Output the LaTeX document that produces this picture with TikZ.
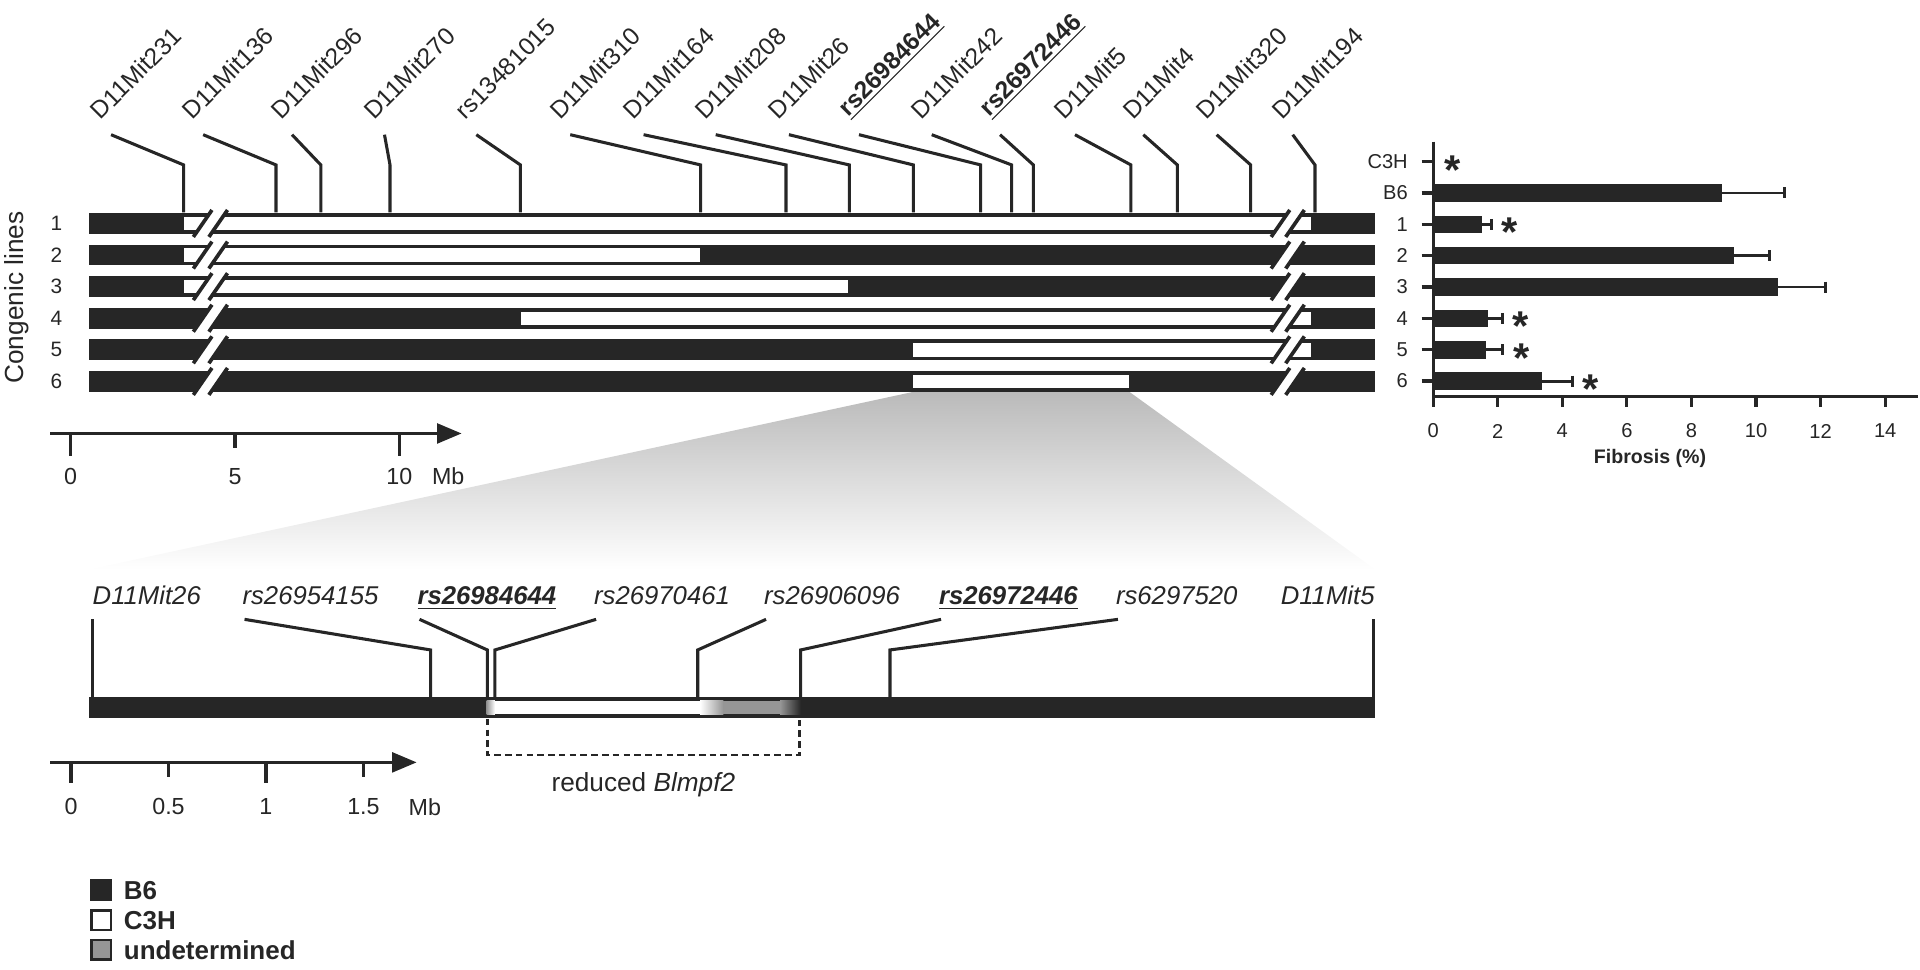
\documentclass[tikz,border=0pt]{standalone}
\usepackage{graphicx}
\usepackage{fontspec}
\setmainfont{Liberation Sans}
\usetikzlibrary{
    arrows.meta,
    positioning
}
\definecolor{bsix}{HTML}{262626}
\definecolor{undet}{HTML}{969696}
\tikzstyle{toplab} = [anchor=south west, inner sep=0, text=bsix, font={\fontsize{10}{12}\selectfont}]
\tikzstyle{botlab} = [anchor=base west, inner sep=0, text=bsix, font={\fontsize{10.5}{12}\selectfont\itshape}]
\tikzstyle{linkline} = [draw=bsix, line width=1.25pt]
\tikzstyle{axisline} = [draw=bsix, line width=1.4pt]
\tikzstyle{slash} = [draw=bsix, line width=1.5pt]
\tikzstyle{ticklab} = [inner sep=0, text=bsix, font={\fontsize{9.5}{11}\selectfont}]
\tikzstyle{rowlab} = [inner sep=0, text=bsix, font={\fontsize{8.5}{10}\selectfont}]
\tikzstyle{chartlab} = [anchor=east, inner sep=0, text=bsix, font={\fontsize{8.2}{10}\selectfont}]
\tikzstyle{errbar} = [draw=bsix, line width=1.2pt]
\tikzstyle{signif} = [anchor=north, inner sep=0, text=bsix, font={\fontsize{17}{17}\selectfont\bfseries}]
\tikzstyle{legbox} = [draw=bsix, line width=1.1pt, minimum size=8pt, inner sep=0]
\tikzstyle{legtext} = [node distance=4.5pt, inner sep=0, text=bsix, font={\fontsize{10.6}{12}\selectfont\bfseries}]

\begin{document}
\begin{tikzpicture}[x=0.5pt, y=-0.5pt]
    \useasboundingbox (0,0) rectangle (1568,791.4);

    % zoom funnel
    \shade[top color=black!27, bottom color=white] (745.9,320) -- (922.3,320) -- (1123,465) -- (73,465) -- cycle;

    % congenic lines
    \node[rotate=90, inner sep=0, text=bsix, font={\fontsize{10.7}{12}\selectfont}] (cong) at (14,243) {Congenic lines};

    \foreach \r / \ws / \we in {1/150.2/1070.7, 2/150.2/571.5, 3/150.2/692.5, 4/425.5/1070.7, 5/745.9/1070.7, 6/745.9/922.3}{
    \pgfmathsetmacro\yt{174+(\r-1)*25.8}
    \pgfmathsetmacro\yb{\yt+17}
    \pgfmathsetmacro\yc{\yt+8.5}
    \node[rowlab] (row\r) at (46,\yc) {\r};
    \fill[bsix] (73,\yt) rectangle (1123,\yb);
    \fill[white] (\ws,\yt+3) rectangle (\we,\yb-3);
    \foreach \xa / \xb in {165.5/178.2, 1045.7/1057.6}{
    \fill[white] (\xa-6.2,\yb+0.5) -- (\xa+6.2,\yt-0.5) -- (\xb+6.2,\yt-0.5) -- (\xb-6.2,\yb+0.5) -- cycle;
    \draw[slash] (\xa-7.6,\yc+11) -- (\xa+7.6,\yc-11);
    \draw[slash] (\xb-7.6,\yc+11) -- (\xb+7.6,\yc-11);
    }
    }

    % markers on the congenic map
    \foreach \lab / \sx / \vx [count=\i] in {D11Mit231/90.7/150, D11Mit136/165.9/225.4, D11Mit296/238.5/262, D11Mit270/314/318.5, rs13481015/389/425, D11Mit310/465.7/572.2, D11Mit164/525.6/641.9, D11Mit208/584.5/693.6, D11Mit26/644.3/745.9, {\underline{\textbf{rs26984644}}}/701.5/800.9, D11Mit242/760.9/826.2, {\underline{\textbf{rs26972446}}}/816.7/843.9, D11Mit5/877.9/923.6, D11Mit4/933.7/961.5, D11Mit320/993.6/1021.4, D11Mit194/1055.7/1073.9}{
    \coordinate (mt\i) at (\sx,110);
    \coordinate (me\i) at (\vx,134.7);
    \coordinate (mb\i) at (\vx,173.5);
    \node[toplab] (ml\i) at (\sx-19,99) {\rotatebox{45}{\lab}};
    \draw[linkline] (mt\i) -- (me\i) -- (mb\i);
    }

    % Mb axis, whole map
    \coordinate (tax0) at (41,354);
    \coordinate (tax1) at (377,354);
    \draw[axisline, -{Triangle[length=10pt, width=8pt]}] (tax0) -- (tax1);
    \foreach \v / \len [count=\i] in {0/18, 5/12, 10/18}{
    \draw[axisline] (57.7+\v*26.84,354) -- ++(0,\len);
    \node[ticklab] (tt\i) at (57.7+\v*26.84,389) {\v};
    }
    \node[ticklab] (tmb) at (366,389) {Mb};

    % fine map
    \fill[bsix] (73,569) rectangle (1123,586.6);
    \shade[left color=undet, right color=white] (397.5,572.2) rectangle (404.2,583.3);
    \fill[white] (404.2,572.2) rectangle (571.7,583.3);
    \shade[left color=white, right color=undet] (571.7,572.2) rectangle (590.7,583.3);
    \fill[undet] (590.7,572.2) rectangle (637,583.3);
    \shade[left color=undet, right color=bsix] (637,572.2) rectangle (654,583.3);

    \node[botlab] (zl0) at (75.3,494) {D11Mit26};
    \coordinate (zt0) at (75.5,505.8);
    \coordinate (zb0) at (75.5,569.5);
    \draw[linkline] (zt0) -- (zb0);
    \node[botlab, anchor=base east] (zl9) at (1123,494) {D11Mit5};
    \coordinate (zt9) at (1121.5,505.8);
    \coordinate (zb9) at (1121.5,569.5);
    \draw[linkline] (zt9) -- (zb9);

    \foreach \lab / \sx / \vx [count=\i] in {rs26954155/199.7/351.7, {\underline{\textbf{rs26984644}}}/342.6/398, rs26970461/486.8/404.2, rs26906096/625.6/569.8, {\underline{\textbf{rs26972446}}}/768.5/653.9, rs6297520/913/726.8}{
    \coordinate (zt\i) at (\sx,505.8);
    \coordinate (ze\i) at (\vx,530.8);
    \coordinate (zb\i) at (\vx,569.5);
    \node[botlab] (zl\i) at (\sx-2,494) {\lab};
    \draw[linkline] (zt\i) -- (ze\i) -- (zb\i);
    }

    % reduced interval
    \coordinate (bk1) at (398,587);
    \coordinate (bk2) at (398,616.6);
    \coordinate (bk3) at (652.8,616.6);
    \coordinate (bk4) at (652.8,587);
    \draw[linkline, line width=1.2pt, dash pattern=on 2.7pt off 1.7pt] (bk1) -- (bk2) -- (bk3) -- (bk4);
    \node[inner sep=0, text=bsix, font={\fontsize{10.7}{12}\selectfont}] (redlab) at (525.4,641) {reduced \textit{Blmpf2}};

    % Mb axis, fine map
    \coordinate (bax0) at (41,622.6);
    \coordinate (bax1) at (340.3,622.6);
    \draw[axisline, -{Triangle[length=10pt, width=8pt]}] (bax0) -- (bax1);
    \foreach \v / \len [count=\i] in {0/17, 0.5/12, 1/17, 1.5/12}{
    \draw[axisline] (58+\v*159.2,622.6) -- ++(0,\len);
    \node[ticklab] (bt\i) at (58+\v*159.2,659) {\v};
    }
    \node[ticklab] (bmb) at (347,659) {Mb};

    % fibrosis chart
    \draw[axisline, line width=1.3pt] (1170.4,115.7) -- (1170.4,324) -- (1566,324);
    \foreach \v [count=\i] in {0,2,...,14}{
    \draw[axisline, line width=1.3pt] (1170.4+\v*26.37,324) -- ++(0,8);
    \node[chartlab, anchor=center] (fx\i) at (1170.4+\v*26.37,352) {\v};
    }
    \node[inner sep=0, text=bsix, font={\fontsize{8}{10}\selectfont\bfseries}] (fibro) at (1347.5,374) {Fibrosis (\%)};

    \draw[axisline, line width=1.3pt] (1161,132) -- (1170.4,132);
    \node[chartlab] (cC3H) at (1150,132) {C3H};
    \node[signif] (sC3H) at (1186,126.5) {*};

    \foreach \lab / \yc / \v / \e / \s in {B6/157.6/8.93/10.88/0, 1/183.2/1.52/1.80/1, 2/208.8/9.32/10.43/0, 3/234.4/10.67/12.16/0, 4/260/1.71/2.15/1, 5/285.6/1.63/2.16/1, 6/311.2/3.37/4.31/1}{
    \draw[axisline, line width=1.3pt] (1161,\yc) -- (1170.4,\yc);
    \node[chartlab] (c\lab) at (1150,\yc) {\lab};
    \fill[bsix] (1170.4,\yc-7.2) rectangle (1170.4+\v*26.37,\yc+7.2);
    \draw[errbar] (1170.4+\v*26.37,\yc) -- (1170.4+\e*26.37,\yc);
    \draw[errbar] (1170.4+\e*26.37,\yc-4.5) -- (1170.4+\e*26.37,\yc+4.5);
    \ifnum\s=1 \node[signif] (s\lab) at (1170.4+\e*26.37+15,\yc-5.5) {*}; \fi
    }

    % legend
    \node[legbox, fill=bsix] (kB6) at (82.75,727) {};
    \node[legbox, fill=white] (kC3H) at (82.75,751.4) {};
    \node[legbox, fill=undet] (kund) at (82.75,775.7) {};
    \node[legtext, right=of kB6] (tB6) {B6};
    \node[legtext, right=of kC3H] (tC3H) {C3H};
    \node[legtext, right=of kund] (tund) {undetermined};
\end{tikzpicture}
\end{document}
